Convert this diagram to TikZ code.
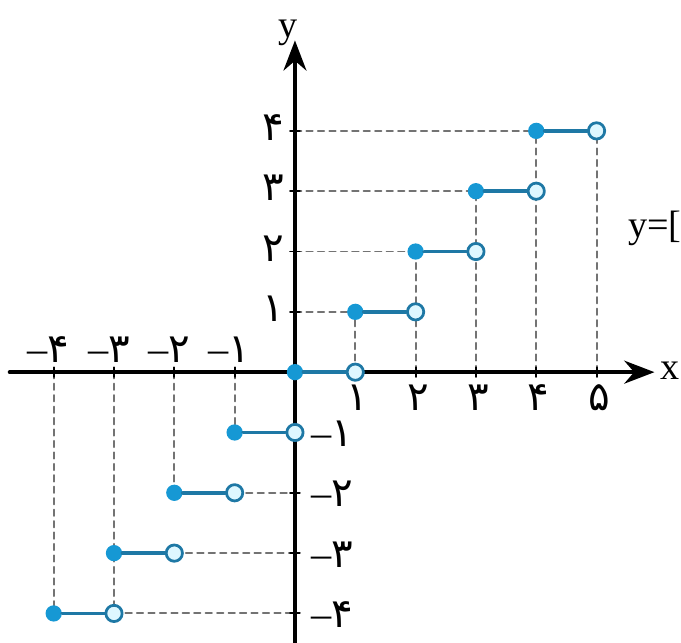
\documentclass[tikz,border=0pt]{standalone}
\usepackage{fontspec}
\setmainfont{Liberation Serif}
\newfontfamily\persfont[Script=Arabic]{DejaVu Sans}
\usetikzlibrary{arrows.meta}
\definecolor{stepblue}{RGB}{22,152,212}
\definecolor{stepedge}{RGB}{30,120,165}
\definecolor{holefill}{RGB}{222,247,255}
\definecolor{guidegray}{RGB}{115,115,115}

\begin{document}
\begin{tikzpicture}[line join=round,line cap=round,
  guide/.style={guidegray, line width=0.9pt, dash pattern=on 3pt off 2.4pt},
  stepline/.style={stepedge, line width=1.8pt},
  solid dot/.style={circle, fill=stepblue, inner sep=0pt, minimum size=0.27cm},
  hole dot/.style={circle, draw=stepedge, fill=holefill, line width=1.3pt, inner sep=0pt, minimum size=0.27cm},
  axis/.style={line width=1.8pt, -{Stealth[length=0.5cm,width=0.38cm]}},
  numlab/.style={font=\persfont\fontsize{19}{22}\selectfont, inner sep=0pt}]
  \useasboundingbox (-4.89,-4.49) rectangle (6.40,6.17);

  % dashed guide lines, upper half
  \foreach \k in {1,...,4} {
    \draw[guide] (0,\k) -- (\k,\k);
    \draw[guide] (\k,0) -- (\k,\k);
  }
  \draw[guide] (5,0) -- (5,4);
  % dashed guide lines, lower half
  \draw[guide] (-1,0) -- (-1,-1);
  \draw[guide] (-2,0) -- (-2,-2);
  \draw[guide] (-3,0) -- (-3,-4);
  \draw[guide] (-4,0) -- (-4,-4);
  \draw[guide] (-1,-2) -- (0,-2);
  \draw[guide] (-2,-3) -- (0,-3);
  \draw[guide] (-3,-4) -- (0,-4);

  % axes
  \coordinate (xstart) at (-4.73,0);
  \coordinate (xend) at (5.96,0);
  \coordinate (ystart) at (0,-4.6);
  \coordinate (yend) at (0,5.5);
  \draw[axis] (xstart) -- (xend);
  \draw[axis] (ystart) -- (yend);
  \node[font=\fontsize{18}{20}\selectfont] (xlab) at (6.22,0.03) {x};
  \node[font=\fontsize{18}{20}\selectfont] (ylab) at (-0.12,5.62) {y};
  \foreach \i in {-4,...,5} \draw[line width=0.9pt] (\i,-0.08) -- (\i,0.08);
  \foreach \i in {-4,...,4} \draw[line width=0.9pt] (-0.08,\i) -- (0.08,\i);

  % tick labels
  \foreach \n/\d in {1/۱,2/۲,3/۳,4/۴,5/۵}
    \node[numlab, anchor=north] (xpos\n) at (\n+0.04,-0.2) {\d};
  \foreach \n/\d in {1/۱,2/۲,3/۳,4/۴}
    \node[numlab, anchor=south east] (xneg\n) at (-\n+0.27,0.15) {{\rmfamily –}\d};
  \foreach \n/\d in {1/۱,2/۲,3/۳,4/۴}
    \node[numlab, anchor=east] (ypos\n) at (-0.18,\n+0.05) {\d};
  \foreach \n/\d in {1/۱,2/۲,3/۳,4/۴}
    \node[numlab, anchor=west] (yneg\n) at (0.27,-\n-0.02) {{\rmfamily –}\d};

  % steps of the floor function
  \foreach \n in {1,...,9} {
    \pgfmathtruncatemacro\k{\n-5}
    \pgfmathtruncatemacro\kk{\n-4}
    \node[solid dot] (sd\n) at (\k,\k) {};
    \node[hole dot] (hd\n) at (\kk,\k) {};
    \draw[stepline] (sd\n) -- (hd\n);
  }

  \node[font=\fontsize{18}{20}\selectfont, anchor=west, inner sep=0pt] (eqlab) at (5.52,2.38) {y=[};
\end{tikzpicture}
\end{document}
